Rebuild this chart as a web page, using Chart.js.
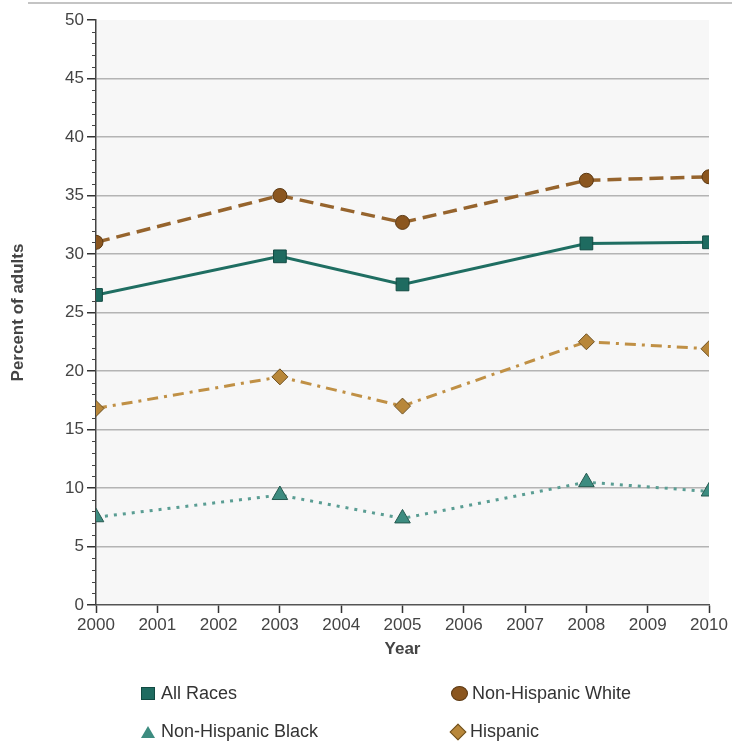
<!DOCTYPE html>
<html>
<head>
<meta charset="utf-8">
<script src="https://cdn.jsdelivr.net/npm/chart.js@4.4.0/dist/chart.umd.min.js"></script>
<style>
  html, body { margin: 0; padding: 0; background: #fff; }
  body { width: 732px; height: 742px; position: relative; overflow: hidden; font-family: "Liberation Sans", Arial, sans-serif; }
  #wrap { position: absolute; left: 0; top: 0; width: 732px; height: 742px; }
  .topline { position: absolute; left: 28px; top: 2px; width: 704px; height: 2px; background: #c4c4c4; }
  .legend-item { position: absolute; font-size: 18px; color: #333; display: flex; align-items: center; white-space: nowrap; }
  .mk { display: inline-block; margin-right: 6px; }
  .mk-sq { width: 12px; height: 11px; background: #1e6b60; border: 1px solid #114a42; }
  .mk-ci { width: 15px; height: 13px; border-radius: 50%; background: #8b561f; border: 1px solid #5b3812; margin-right: 4px; }
  .mk-tri { width: 0; height: 0; border-left: 7px solid transparent; border-right: 7px solid transparent; border-bottom: 12px solid #3d8c80; }
  .mk-di { width: 10px; height: 10px; background: #b8873a; border: 1px solid #6e5020; transform: rotate(45deg); margin: 0 6px 0 3px; }
</style>
</head>
<body>
<div id="wrap"><canvas id="chart" width="732" height="742"></canvas></div>
<div class="topline"></div>
<div class="legend-item" style="left:141px; top:683px;"><span class="mk mk-sq"></span>All Races</div>
<div class="legend-item" style="left:451px; top:683px;"><span class="mk mk-ci"></span>Non-Hispanic White</div>
<div class="legend-item" style="left:141px; top:721px;"><span class="mk mk-tri"></span>Non-Hispanic Black</div>
<div class="legend-item" style="left:449px; top:721px;"><span class="mk mk-di"></span>Hispanic</div>
<script>
// ===== DATA =====
const years     = [2000, 2003, 2005, 2008, 2010];
const allRaces  = [26.5, 29.8, 27.4, 30.9, 31.0];
const nhWhite   = [31.0, 35.0, 32.7, 36.3, 36.6];
const hispanic  = [16.8, 19.5, 17.0, 22.5, 21.9];
const nhBlack   = [7.5, 9.4, 7.4, 10.5, 9.7];

const pts = arr => years.map((x, i) => ({ x, y: arr[i] }));

// plot background + minor y ticks
const plotBg = {
  id: 'plotBg',
  beforeDraw(chart) {
    const { ctx, chartArea: a } = chart;
    ctx.save();
    ctx.fillStyle = '#f7f7f7';
    ctx.fillRect(a.left, a.top, a.right - a.left, a.bottom - a.top);
    ctx.restore();
  },
  afterDraw(chart) {
    const { ctx } = chart;
    const y = chart.scales.y;
    ctx.save();
    ctx.strokeStyle = '#444';
    ctx.lineWidth = 1;
    for (let v = 1; v < 50; v++) {
      if (v % 5 === 0) continue;
      const py = Math.round(y.getPixelForValue(v)) + 0.5;
      ctx.beginPath();
      ctx.moveTo(y.right - 4, py);
      ctx.lineTo(y.right, py);
      ctx.stroke();
    }
    ctx.restore();
  }
};

const tickFont = { family: '"Liberation Sans", Arial, sans-serif', size: 17 };
const titleFont = { family: '"Liberation Sans", Arial, sans-serif', size: 17, weight: 'bold' };

new Chart(document.getElementById('chart'), {
  type: 'line',
  data: {
    datasets: [
      {
        label: 'Non-Hispanic Black',
        data: pts(nhBlack),
        borderColor: '#5a9d93',
        borderWidth: 3,
        borderDash: [3, 6],
        pointStyle: 'triangle',
        pointRadius: 9,
        pointBackgroundColor: '#3d8c80',
        pointBorderColor: '#24594f',
        pointBorderWidth: 1,
      },
      {
        label: 'Hispanic',
        data: pts(hispanic),
        borderColor: '#c09045',
        borderWidth: 3,
        borderDash: [11, 6, 3, 6],
        pointStyle: 'rectRot',
        pointRadius: 8,
        pointBackgroundColor: '#b8873a',
        pointBorderColor: '#6e5020',
        pointBorderWidth: 1,
      },
      {
        label: 'All Races',
        data: pts(allRaces),
        borderColor: '#1f6e62',
        borderWidth: 3,
        pointStyle: 'rect',
        pointRadius: 9,
        pointBackgroundColor: '#1e6b60',
        pointBorderColor: '#114a42',
        pointBorderWidth: 1,
      },
      {
        label: 'Non-Hispanic White',
        data: pts(nhWhite),
        borderColor: '#96642d',
        borderWidth: 3.5,
        borderDash: [14, 7],
        pointStyle: 'circle',
        pointRadius: 7,
        pointBackgroundColor: '#8b561f',
        pointBorderColor: '#5b3812',
        pointBorderWidth: 1,
      },
    ]
  },
  options: {
    responsive: false,
    animation: false,
    layout: { padding: { top: 20, right: 23, bottom: 82, left: 0 } },
    plugins: {
      legend: { display: false },
      tooltip: { enabled: false },
    },
    scales: {
      x: {
        type: 'linear',
        min: 2000, max: 2010,
        afterFit: s => { s.height = 55; },
        ticks: { stepSize: 1, color: '#444', font: tickFont, padding: 2, maxRotation: 0, callback: v => String(v) },
        grid: { drawOnChartArea: false, tickLength: 8, tickColor: '#333', tickWidth: 1.5 },
        border: { color: '#555', width: 1.5 },
        title: { display: true, text: 'Year', color: '#444', font: titleFont, padding: { top: 0, bottom: 0 } },
      },
      y: {
        min: 0, max: 50,
        afterFit: s => { s.width = 96; },
        ticks: {
          stepSize: 1, autoSkip: false, color: '#444', font: tickFont, padding: 3,
          callback: v => (v % 5 === 0 ? String(v) : ''),
        },
        grid: {
          tickLength: 9,
          tickWidth: 1.5,
          tickColor: c => (c.tick && c.tick.value % 5 === 0 ? '#333' : 'rgba(0,0,0,0)'),
          color: c => (c.tick && c.tick.value % 5 === 0 && c.tick.value > 0 && c.tick.value < 50 ? '#b4b4b4' : 'rgba(0,0,0,0)'),
          lineWidth: 1.5,
        },
        border: { color: '#444', width: 1.5 },
        title: { display: true, text: 'Percent of adults', color: '#444', font: titleFont, padding: { top: 8, bottom: 0 } },
      }
    }
  },
  plugins: [plotBg]
});
</script>
</body>
</html>
